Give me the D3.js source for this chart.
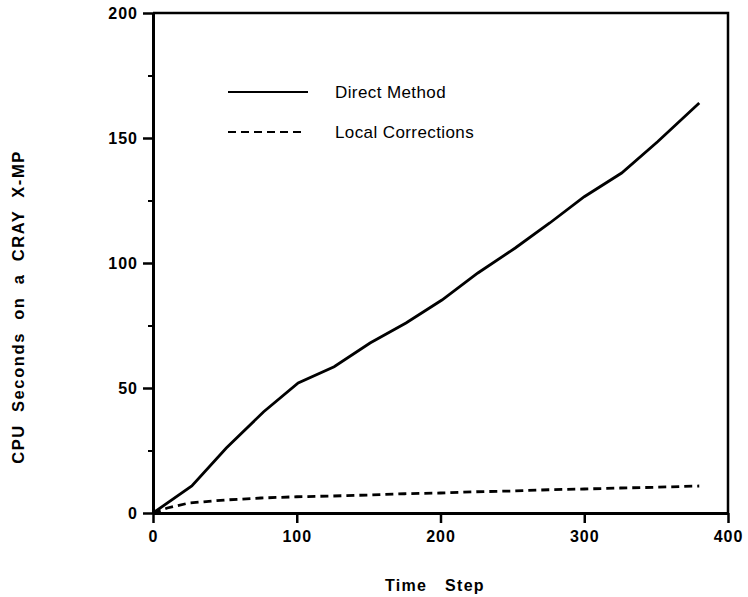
<!DOCTYPE html>
<html>
<head>
<meta charset="utf-8">
<script src="https://cdn.jsdelivr.net/npm/d3@7"></script>
<style>
  body { margin: 0; background: #fff; }
  text { font-family: "Liberation Sans", Arial, sans-serif; fill: #000; }
</style>
</head>
<body>
<svg id="chart" width="748" height="597"></svg>
<script>
// Data ------------------------------------------------------
const directSteps = [0, 27, 51, 77, 101, 126, 151, 176, 201, 226, 252, 276, 300, 326, 351, 380];
const directSecs  = [0, 10.8, 26, 40.5, 52, 58.5, 68, 76, 85.2, 96, 106, 116, 126.5, 136, 148.5, 164];
const localSteps  = [0, 10, 25, 50, 75, 100, 125, 150, 175, 200, 225, 250, 275, 300, 325, 350, 380];
const localSecs   = [0, 2, 4, 5.2, 6, 6.5, 6.8, 7.2, 7.7, 8, 8.5, 8.8, 9.3, 9.6, 10, 10.3, 10.8];
const xTicks = [0, 100, 200, 300, 400];
const yTicks = [0, 50, 100, 150, 200];
const yMinorTicks = [25, 75, 125, 175];
const legendLabels = ["Direct Method", "Local Corrections"];

const svg = d3.select("#chart");
const margin = { top: 13, left: 153, right: 20, bottom: 84 };
const width = 728 - margin.left;
const height = 513 - margin.top;

const x = d3.scaleLinear().domain([0, 400]).range([0, width]);
const y = d3.scaleLinear().domain([0, 200]).range([height, 0]);

const g = svg.append("g").attr("transform", `translate(${margin.left},${margin.top})`);

// frame (top and right sides)
g.append("path")
  .attr("d", `M0,0H${width}V${height}`)
  .attr("fill", "none")
  .attr("stroke", "#000")
  .attr("stroke-width", 2.5);

// x axis
const xAxis = g.append("g")
  .attr("transform", `translate(0,${height})`)
  .call(d3.axisBottom(x).tickValues(xTicks).tickSize(10).tickPadding(8).tickSizeOuter(0));
// y axis
const yAxis = g.append("g")
  .call(d3.axisLeft(y).tickValues(yTicks).tickSize(10).tickPadding(5).tickSizeOuter(0));
g.append("g")
  .call(d3.axisLeft(y).tickValues(yMinorTicks).tickSize(5).tickFormat("").tickSizeOuter(0))
  .call(a => a.select(".domain").remove())
  .selectAll("line").attr("stroke-width", 2);

[xAxis, yAxis].forEach(a => {
  a.select(".domain").attr("stroke-width", 3);
  a.selectAll(".tick line").attr("stroke-width", 2.5);
  a.selectAll(".tick text")
    .attr("font-size", 16)
    .attr("font-weight", "bold")
    .style("letter-spacing", "1px")
    .attr("font-family", "Liberation Sans, Arial, sans-serif");
});

// lines
const line = d3.line().x(d => x(d[0])).y(d => y(d[1]));
g.append("path")
  .datum(directSteps.map((s, i) => [s, directSecs[i]]))
  .attr("d", line)
  .attr("fill", "none")
  .attr("stroke", "#000")
  .attr("stroke-width", 2.8);
g.append("path")
  .datum(localSteps.map((s, i) => [s, localSecs[i]]))
  .attr("d", line)
  .attr("fill", "none")
  .attr("stroke", "#000")
  .attr("stroke-width", 2.8)
  .attr("stroke-dasharray", "8,5");

// legend
const legend = svg.append("g");
legendLabels.forEach((label, i) => {
  const ly = 92 + i * 40;
  legend.append("line")
    .attr("x1", 228).attr("x2", i === 0 ? 308 : 302)
    .attr("y1", ly).attr("y2", ly)
    .attr("stroke", "#000")
    .attr("stroke-width", 2.2)
    .attr("stroke-dasharray", i === 0 ? null : "8,5");
  legend.append("text")
    .attr("x", 335).attr("y", ly)
    .attr("dy", "0.35em")
    .attr("font-size", 17)
    .style("letter-spacing", "0.4px")
    .text(label);
});

// axis titles
svg.append("text")
  .attr("x", 435).attr("y", 591)
  .attr("text-anchor", "middle")
  .attr("font-size", 16)
  .attr("font-weight", "bold")
  .style("letter-spacing", "1.3px")
  .style("word-spacing", "12px")
  .text("Time Step");

svg.append("text")
  .attr("transform", "translate(24,307) rotate(-90)")
  .attr("text-anchor", "middle")
  .attr("font-size", 16.5)
  .attr("font-weight", "bold")
  .style("letter-spacing", "1.6px")
  .style("word-spacing", "6px")
  .text("CPU Seconds on a CRAY X-MP");
</script>
</body>
</html>
